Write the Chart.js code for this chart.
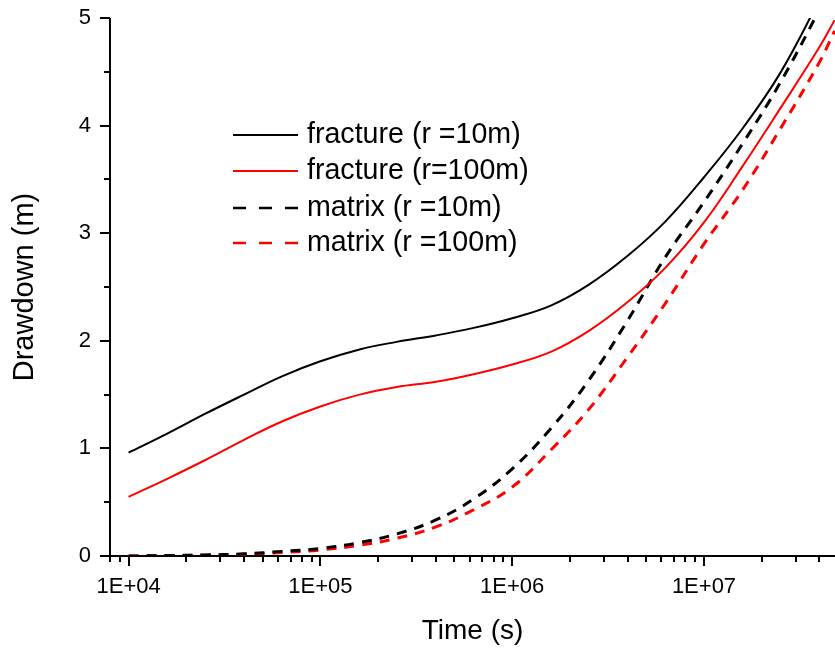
<!DOCTYPE html>
<html>
<head>
<meta charset="utf-8">
<script src="https://cdn.jsdelivr.net/npm/chart.js@4.4.0/dist/chart.umd.min.js"></script>
<style>
  html, body { margin: 0; padding: 0; background: #fff; }
</style>
</head>
<body>
<canvas id="chart" width="835" height="654"></canvas>
<script>
// time grid (s) and drawdown (m)
const times = [1e4, 1.6e4, 2.5e4, 4e4, 6.3e4, 1e5, 1.6e5, 2.5e5, 4e5, 6.3e5, 1e6, 1.6e6, 2.5e6, 4e6, 6.3e6, 1e7, 1.6e7, 2.5e7, 4e7, 4.8e7];
const fracture10 = [0.96, 1.14, 1.32, 1.50, 1.67, 1.81, 1.92, 1.99, 2.05, 2.12, 2.21, 2.33, 2.52, 2.79, 3.11, 3.52, 3.98, 4.49, 5.17, 5.45];
const fracture100 = [0.55, 0.72, 0.89, 1.08, 1.25, 1.39, 1.50, 1.57, 1.62, 1.69, 1.78, 1.90, 2.09, 2.36, 2.68, 3.10, 3.63, 4.16, 4.73, 4.98];
const matrix10 = [0.00, 0.004, 0.01, 0.02, 0.043, 0.07, 0.125, 0.205, 0.335, 0.53, 0.81, 1.19, 1.63, 2.19, 2.78, 3.29, 3.84, 4.40, 5.08, 5.38];
const matrix100 = [0.00, 0.003, 0.008, 0.016, 0.033, 0.056, 0.10, 0.165, 0.27, 0.43, 0.64, 0.99, 1.36, 1.85, 2.35, 2.90, 3.41, 3.97, 4.59, 4.88];

const seriesLabels = ['fracture (r =10m)', 'fracture (r=100m)', 'matrix (r =10m)', 'matrix (r =100m)'];
const xTickValues = [1e4, 1e5, 1e6, 1e7];
const xTickLabels = ['1E+04', '1E+05', '1E+06', '1E+07'];

const FONT = 'Arial, "Liberation Sans", sans-serif';

function pts(arr) {
    return times.map((t, i) => ({ x: t, y: arr[i] }));
}

// axis lines + major/minor tick marks, drawn under the curves
const axesPlugin = {
    id: 'axes',
    beforeDatasetsDraw(chart) {
        const { ctx, chartArea: a, scales: { x, y } } = chart;
        ctx.save();
        ctx.strokeStyle = '#000';
        ctx.lineWidth = 2;
        ctx.beginPath();
        ctx.moveTo(a.left, a.top);
        ctx.lineTo(a.left, a.bottom);
        ctx.lineTo(a.right, a.bottom);
        for (let e = 3; e <= 7; e++) {
            for (let m = 1; m <= 9; m++) {
                const v = m * Math.pow(10, e);
                if (v < x.min || v > x.max) continue;
                const px = Math.round(x.getPixelForValue(v));
                ctx.moveTo(px, a.bottom);
                ctx.lineTo(px, a.bottom + (m === 1 ? 10 : 6));
            }
        }
        for (let v = 0; v <= 5; v += 0.5) {
            const py = Math.round(y.getPixelForValue(v));
            ctx.moveTo(a.left, py);
            ctx.lineTo(a.left - (v % 1 === 0 ? 10 : 6), py);
        }
        ctx.stroke();
        ctx.restore();
    }
};

// legend inside the plot
const legendPlugin = {
    id: 'inLegend',
    afterDraw(chart) {
        const { ctx } = chart;
        const rows = [135, 171, 208, 243];
        ctx.save();
        ctx.font = '28.6px ' + FONT;
        ctx.textBaseline = 'middle';
        ctx.fillStyle = '#000';
        chart.data.datasets.forEach((ds, i) => {
            const yy = rows[i];
            ctx.strokeStyle = ds.borderColor;
            ctx.lineWidth = ds.borderDash.length ? 2.5 : 2;
            ctx.setLineDash(ds.borderDash.length ? [13, 13] : []);
            ctx.beginPath();
            ctx.moveTo(233, yy);
            ctx.lineTo(298, yy);
            ctx.stroke();
            ctx.fillText(ds.label, 307, yy);
        });
        ctx.restore();
    }
};

const chart = document.querySelector('#chart').getContext('2d');

new Chart(chart, {
    type: 'line',
    data: {
        datasets: [
            { label: seriesLabels[0], data: pts(fracture10), borderColor: '#000000', borderWidth: 2, borderDash: [] },
            { label: seriesLabels[1], data: pts(fracture100), borderColor: '#ff0000', borderWidth: 2, borderDash: [] },
            { label: seriesLabels[2], data: pts(matrix10), borderColor: '#000000', borderWidth: 3, borderDash: [10, 8] },
            { label: seriesLabels[3], data: pts(matrix100), borderColor: '#ff0000', borderWidth: 3, borderDash: [10, 8] }
        ]
    },
    options: {
        responsive: false,
        animation: false,
        events: [],
        elements: { point: { radius: 0 }, line: { tension: 0.4 } },
        layout: { padding: { top: 18, right: 0, bottom: 0, left: 0 } },
        plugins: { legend: { display: false }, tooltip: { enabled: false } },
        scales: {
            x: {
                type: 'logarithmic',
                min: 8000,
                max: 4.82e7,
                grid: { display: false, drawTicks: false },
                border: { display: false },
                afterBuildTicks: s => { s.ticks = xTickValues.map(v => ({ value: v })); },
                afterFit: s => { s.height = 98; s.paddingLeft = 0; s.paddingRight = 0; },
                ticks: {
                    color: '#000',
                    font: { family: FONT, size: 22 },
                    padding: 18,
                    maxRotation: 0,
                    autoSkip: false,
                    callback: v => xTickLabels[xTickValues.indexOf(v)]
                },
                title: { display: true, text: 'Time (s)', color: '#000', font: { family: FONT, size: 28 }, padding: { top: 0, bottom: 6 } }
            },
            y: {
                min: 0,
                max: 5,
                grid: { display: false, drawTicks: false },
                border: { display: false },
                afterFit: s => { s.width = 110; s.paddingTop = 0; s.paddingBottom = 0; },
                ticks: { stepSize: 1, color: '#000', font: { family: FONT, size: 22 }, padding: 19 },
                title: { display: true, text: 'Drawdown (m)', color: '#000', font: { family: FONT, size: 29 }, padding: { top: 8, bottom: 0 } }
            }
        }
    },
    plugins: [axesPlugin, legendPlugin]
});
</script>
</body>
</html>
